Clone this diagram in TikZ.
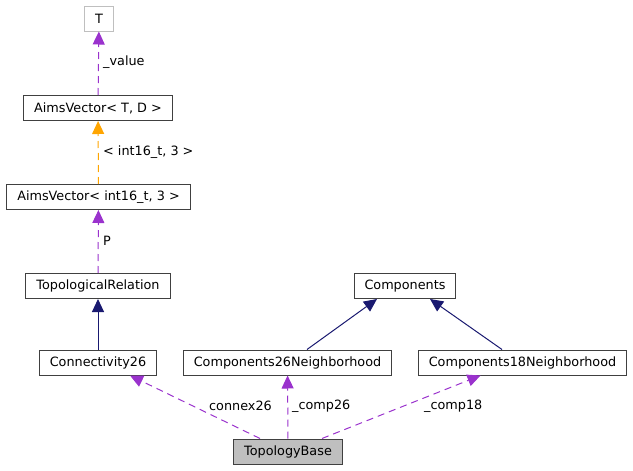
\documentclass[tikz,border=0pt]{standalone}
\usepackage{fontspec}
\setmainfont{DejaVu Sans}
\usetikzlibrary{arrows.meta}
\definecolor{edgepurple}{HTML}{9A32CD}
\definecolor{edgeorange}{HTML}{FFA500}
\definecolor{edgeblue}{HTML}{191970}
\tikzset{
CLASS/.style={draw=black!75,line width=1pt,minimum height=25pt,inner xsep=10.5pt,inner ysep=0pt,font=\fontsize{12.8}{15}\selectfont},
LABEL/.style={anchor=west,inner sep=0pt,font=\fontsize{12.8}{15}\selectfont},
USES/.style={draw=edgepurple,line width=1pt,dash pattern=on 7pt off 5pt,-{Triangle[length=13pt,width=12pt]}},
INST/.style={draw=edgeorange,line width=1pt,dash pattern=on 7pt off 5pt,-{Triangle[length=13pt,width=12pt]}},
INHERIT/.style={draw=edgeblue,line width=1pt,-{Triangle[length=13pt,width=12pt]}},
}
\begin{document}
\begin{tikzpicture}[x=1pt,y=-1pt]
	\useasboundingbox (0,0) rectangle (633,471);
	% classes
	\node[CLASS,draw=black!25] (t) at (99,18.5) {T};
	\node[CLASS] (avtd) at (98,108) {AimsVector< T, D >};
	\node[CLASS] (avint) at (98.5,197) {AimsVector< int16\_t, 3 >};
	\node[CLASS] (toprel) at (98,286) {TopologicalRelation};
	\node[CLASS] (comp) at (405,286) {Components};
	\node[CLASS] (conn26) at (98,362.5) {Connectivity26};
	\node[CLASS] (comp26) at (287.5,362.5) {Components26Neighborhood};
	\node[CLASS] (comp18) at (522.5,362.5) {Components18Neighborhood};
	\node[CLASS,fill=black!25] (topbase) at (288,451.5) {TopologyBase};
	% edges
	\draw[USES] (avtd) -- (t);
	\draw[INST] (avint) -- (avtd);
	\draw[USES] (toprel) -- (avint);
	\draw[INHERIT] (conn26) -- (toprel);
	\draw[INHERIT] ([xshift=19.5pt]comp26.north) -- ([xshift=-28pt]comp.south);
	\draw[INHERIT] ([xshift=-20.5pt]comp18.north) -- ([xshift=25pt]comp.south);
	\draw[USES] ([xshift=-28pt]topbase.north) -- ([xshift=32pt]conn26.south);
	\draw[USES] (topbase) -- (comp26);
	\draw[USES] ([xshift=34pt]topbase.north) -- ([xshift=-42pt]comp18.south);
	% labels
	\node[LABEL] (lvalue) at (103,62) {\_value};
	\node[LABEL] (lint) at (103,152) {< int16\_t, 3 >};
	\node[LABEL] (lp) at (103,241) {P};
	\node[LABEL] (lconn) at (209,406) {connex26};
	\node[LABEL] (lc26) at (292,406) {\_comp26};
	\node[LABEL] (lc18) at (424,406) {\_comp18};
\end{tikzpicture}
\end{document}
